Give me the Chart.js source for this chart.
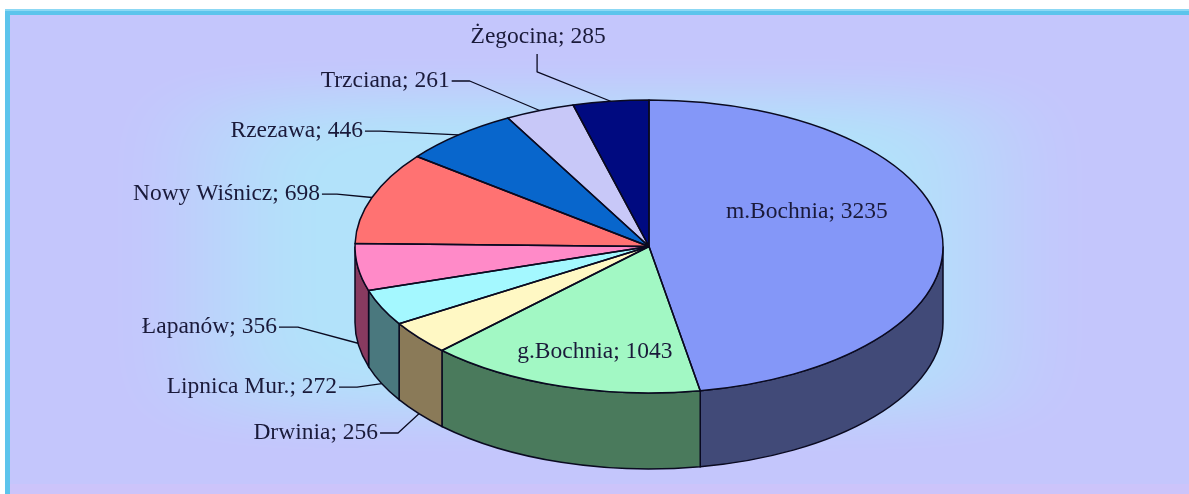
<!DOCTYPE html>
<html><head><meta charset="utf-8">
<script src="https://cdn.jsdelivr.net/npm/chart.js@4/dist/chart.umd.min.js"></script>
<style>html,body{margin:0;padding:0;background:#fff;overflow:hidden}#wrap{width:1189px;height:494px;position:relative}canvas{display:block}</style>
</head><body><div id="wrap"><canvas id="c" width="1189" height="494"></canvas></div>
<script>
// ---- data ----
const categories = ['m.Bochnia', 'g.Bochnia', 'Drwinia', 'Lipnica Mur.', 'Łapanów', 'Nowy Wiśnicz', 'Rzezawa', 'Trzciana', 'Żegocina'];
const values = [3235, 1043, 256, 272, 356, 698, 446, 261, 285];

// ---- styles ----
const topColors = ['#8497f8', '#a2f8c4', '#fff8c4', '#a4f8ff', '#ff8ac8', '#ff7272', '#0866cc', '#c8c8f8', '#000a80'];
const sideColors = ['#414a78', '#4a7a5c', '#8a7a58', '#4a787e', '#883a60', '#8a3a3a', '#033a70', '#6a6a8a', '#00004a'];
const outlineColor = '#0a0a20';
const textColor = '#1a1a3a';
const labelFont = '23.5px "Liberation Serif", "Times New Roman", serif';
const pieGeom = { depth: 76, sx: 294 / 146.5, radius: 146.5 };
const labelLayout = [
  { type: 'inside', fx: 0.537, fy: -0.235 },
  { type: 'inside', fx: -0.184, fy: 0.72 },
  { type: 'side', ex: -20.9, ey: 19.3, tail: 18 },
  { type: 'side', ex: -24.7, ey: 3.5, tail: 18 },
  { type: 'side', ex: -60, ey: -16.2, tail: 19 },
  { type: 'side', ex: -35, ey: -3.4, tail: 15 },
  { type: 'side', ex: -78.5, ey: -3.9, tail: 15 },
  { type: 'side', ex: -70, ey: -29.5, tail: 18 },
  { type: 'top', ex: -73.6, ey: -29.3, tail: 18 }
];

let bgCache = null;
function drawBackground(ctx, W, H) {
  if (!bgCache) {
    const img = ctx.createImageData(W, H);
    const px = img.data;
    const L = 10, T = 15, R = W, B = H;
    const cx = (L + R) / 2, cy = (T + B) / 2, hw = (R - L) / 2, hh = (B - T) / 2;
    const cC = [178, 226, 250], cE = [196, 198, 252], cB = [92, 196, 236], cBand = [204, 196, 250];
    for (let y = 0; y < H; y++) {
      for (let x = 0; x < W; x++) {
        let col;
        if (y < 9 || x < 5) col = [255, 255, 255];
        else if (y < T || x < L) col = (y < 11 && x >= 5) ? [140, 216, 244] : cB;
        else if (y >= 484) col = cBand;
        else {
          const u = Math.abs(x - cx) / hw, v = Math.abs(y - cy) / hh;
          const t = Math.pow(Math.pow(u, 6) + Math.pow(v, 6), 1 / 6);
          let k = (t - 0.45) / (0.85 - 0.45);
          k = Math.max(0, Math.min(1, k));
          k = k * k * (3 - 2 * k);
          col = [cC[0] + (cE[0] - cC[0]) * k, cC[1] + (cE[1] - cC[1]) * k, cC[2] + (cE[2] - cC[2]) * k];
        }
        const o = (y * W + x) * 4;
        px[o] = col[0]; px[o + 1] = col[1]; px[o + 2] = col[2]; px[o + 3] = 255;
      }
    }
    bgCache = img;
  }
  ctx.putImageData(bgCache, 0, 0);
}

const pie3d = {
  id: 'pie3d',
  beforeDraw(chart) { drawBackground(chart.ctx, chart.width, chart.height); },
  beforeDatasetsDraw(chart) {
    const ctx = chart.ctx;
    const arcs = chart.getDatasetMeta(0).data;
    const sx = pieGeom.sx, d = pieGeom.depth;
    arcs.forEach((a, i) => {
      const rx = a.outerRadius * sx, ry = a.outerRadius;
      const s = Math.max(a.startAngle, 0), e = Math.min(a.endAngle, Math.PI);
      if (e > s) {
        ctx.beginPath();
        ctx.ellipse(a.x, a.y, rx, ry, 0, s, e, false);
        ctx.lineTo(a.x + rx * Math.cos(e), a.y + ry * Math.sin(e) + d);
        ctx.ellipse(a.x, a.y + d, rx, ry, 0, e, s, true);
        ctx.closePath();
        ctx.fillStyle = sideColors[i]; ctx.fill();
        ctx.lineWidth = 1.5; ctx.strokeStyle = outlineColor; ctx.stroke();
      }
    });
    const c = arcs[0];
    ctx.save();
    ctx.translate(c.x, c.y); ctx.scale(sx, 1); ctx.translate(-c.x, -c.y);
  },
  afterDatasetsDraw(chart) {
    const ctx = chart.ctx;
    ctx.restore();
    const arcs = chart.getDatasetMeta(0).data;
    const sx = pieGeom.sx, d = pieGeom.depth;
    arcs.forEach(a => {
      ctx.save();
      ctx.translate(a.x, a.y); ctx.scale(sx, 1); ctx.translate(-a.x, -a.y);
      ctx.beginPath();
      ctx.moveTo(a.x, a.y);
      ctx.arc(a.x, a.y, a.outerRadius, a.startAngle, a.endAngle);
      ctx.closePath();
      ctx.restore();
      ctx.lineJoin = 'round';
      ctx.lineWidth = 1.5; ctx.strokeStyle = outlineColor; ctx.stroke();
    });
    ctx.save();
    ctx.font = labelFont;
    ctx.fillStyle = textColor;
    ctx.strokeStyle = outlineColor;
    ctx.lineWidth = 1.3;
    arcs.forEach((a, i) => {
      const lay = labelLayout[i];
      const text = categories[i] + '; ' + values[i];
      const rx = a.outerRadius * sx, ry = a.outerRadius;
      const m = (a.startAngle + a.endAngle) / 2;
      if (lay.type === 'inside') {
        ctx.textAlign = 'center'; ctx.textBaseline = 'middle';
        ctx.fillText(text, a.x + lay.fx * rx, a.y + lay.fy * ry);
        return;
      }
      let ax = a.x + rx * Math.cos(m), ay = a.y + ry * Math.sin(m);
      if (Math.sin(m) > 0) ay += d;
      const ex = ax + lay.ex, ey = ay + lay.ey;
      ctx.beginPath();
      ctx.moveTo(ax, ay); ctx.lineTo(ex, ey);
      if (lay.type === 'top') {
        ctx.lineTo(ex, ey - lay.tail); ctx.stroke();
        ctx.textAlign = 'center'; ctx.textBaseline = 'alphabetic';
        ctx.fillText(text, ex + 1, ey - lay.tail - 11);
      } else {
        ctx.lineTo(ex - lay.tail, ey); ctx.stroke();
        ctx.textAlign = 'right'; ctx.textBaseline = 'middle';
        ctx.fillText(text, ex - lay.tail - 2, ey);
      }
    });
    ctx.restore();
  }
};

new Chart(document.getElementById('c'), {
  type: 'pie',
  data: {
    labels: categories,
    datasets: [{ data: values, backgroundColor: topColors, borderWidth: 0, clip: false, hoverOffset: 0 }]
  },
  options: {
    responsive: false,
    animation: false,
    events: [],
    radius: pieGeom.radius,
    layout: { padding: { top: 100, bottom: 101, left: 109, right: 0 } },
    plugins: { legend: { display: false }, tooltip: { enabled: false } }
  },
  plugins: [pie3d]
});
</script>
</body></html>
